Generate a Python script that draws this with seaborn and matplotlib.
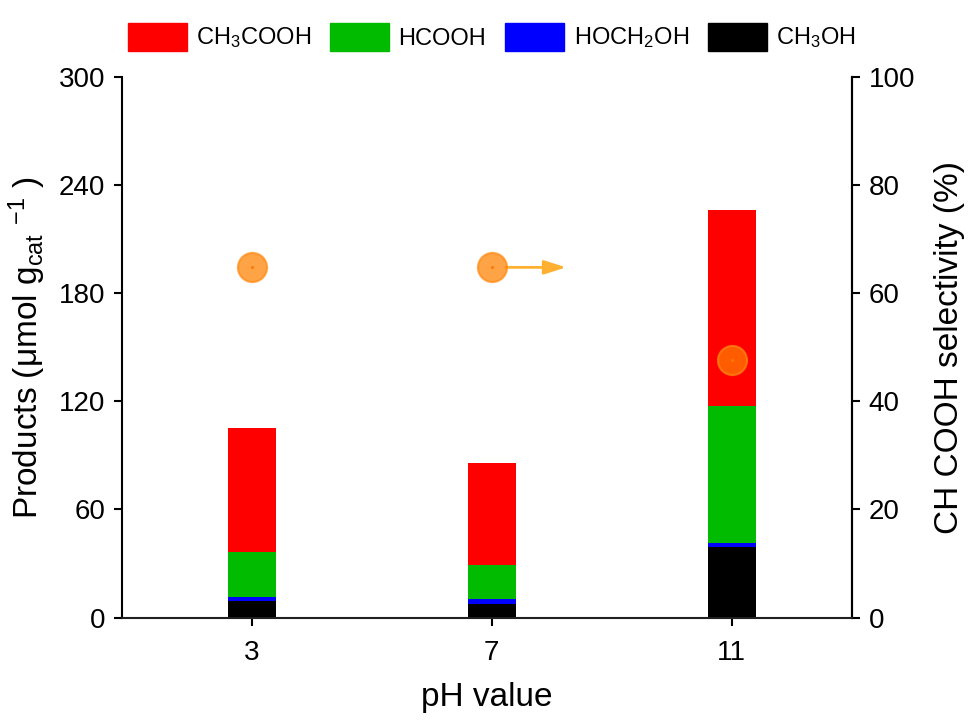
import matplotlib
matplotlib.use("Agg")
import matplotlib.pyplot as plt
import seaborn as sns
import numpy as np
import pandas as pd

# Product yields (umol g_cat^-1) at each pH
ph_labels = ["3", "7", "11"]
ch3oh = [9.3, 7.3, 39.0]
hoch2oh = [2.1, 3.1, 2.2]
hcooh = [25.2, 18.9, 76.4]
ch3cooh = [68.6, 56.4, 108.5]
# CH3COOH selectivity (%)
selectivity = [64.8, 64.8, 47.7]

sns.set_theme(style="ticks")
plt.rcParams["font.family"] = ["Liberation Sans", "DejaVu Sans"]
plt.rcParams["mathtext.fontset"] = "custom"
plt.rcParams["mathtext.rm"] = "Liberation Sans"
plt.rcParams["mathtext.it"] = "Liberation Sans:italic"
plt.rcParams["mathtext.default"] = "regular"
plt.rcParams["text.color"] = "black"
plt.rcParams["axes.labelcolor"] = "black"
plt.rcParams["xtick.color"] = "black"
plt.rcParams["ytick.color"] = "black"

series = [
    ("CH$_3$COOH", ch3cooh, "#FF0000"),
    ("HCOOH", hcooh, "#00BB00"),
    ("HOCH$_2$OH", hoch2oh, "#0000FF"),
    ("CH$_3$OH", ch3oh, "#000000"),
]

# cumulative stack tops, drawn tallest first so each lower layer overlays it
stack_order = [ch3oh, hoch2oh, hcooh, ch3cooh]
cum = np.cumsum(np.array(stack_order), axis=0)
tops = {
    "CH$_3$OH": cum[0],
    "HOCH$_2$OH": cum[1],
    "HCOOH": cum[2],
    "CH$_3$COOH": cum[3],
}

fig = plt.figure(figsize=(9.68, 7.21), dpi=100)
ax = fig.add_axes([0.126, 0.1435, 0.754, 0.7495])

for name, _, color in series:
    df = pd.DataFrame({"pH": ph_labels, "value": tops[name]})
    sns.barplot(data=df, x="pH", y="value", color=color, width=0.2,
                saturation=1, linewidth=0, ax=ax)

ax.set_xlim(-0.54, 2.5)
ax.set_ylim(0, 300)
ax.set_yticks(np.arange(0, 301, 60))
ax.set_xlabel("pH value", fontsize=24, labelpad=12)
ax.set_ylabel("Products (μmol g$_{cat}$ $^{-1}$ )", fontsize=24, labelpad=8)
ax.tick_params(axis="both", labelsize=20, length=6, width=1.5, direction="out", pad=6)
ax.tick_params(axis="x", pad=10)
for side in ["left", "bottom", "right"]:
    ax.spines[side].set_linewidth(1.5)
    ax.spines[side].set_color("black")
ax.spines["top"].set_visible(False)

ax2 = ax.twinx()
sns.scatterplot(x=[0, 1, 2], y=selectivity, ax=ax2, s=440, color="#FF8000",
                alpha=0.72, edgecolor="#FF8A10", linewidth=1.5, zorder=5, legend=False)
sns.scatterplot(x=[0, 1, 2], y=selectivity, ax=ax2, s=5, color="#FF7A00",
                linewidth=0, zorder=6, legend=False)
ax2.set_ylim(0, 100)
ax2.set_yticks(np.arange(0, 101, 20))
ax2.set_ylabel("CH COOH selectivity (%)", fontsize=24, labelpad=14)
ax2.tick_params(axis="y", labelsize=20, length=6, width=1.5, direction="out", pad=6)
ax2.spines["right"].set_linewidth(1.5)
ax2.spines["right"].set_color("black")
ax2.spines["top"].set_visible(False)
ax2.spines["left"].set_visible(False)

# arrow pointing to the right axis
ax2.annotate("", xy=(1.31, selectivity[1]), xytext=(1.06, selectivity[1]),
             arrowprops=dict(arrowstyle="-|>,head_length=1.1,head_width=0.35",
                             color="#FFB030", lw=2, shrinkA=0, shrinkB=0))

leg_handles = [plt.Rectangle((0, 0), 1, 1, color=c) for _, _, c in series]
leg_labels = [n for n, _, _ in series]
fig.legend(leg_handles, leg_labels, loc="upper center", bbox_to_anchor=(0.508, 0.998),
           ncol=4, frameon=False, fontsize=17, handlelength=2.5, handleheight=1.45,
           handletextpad=0.4, columnspacing=0.8)

fig.savefig("out.png", dpi=100)
